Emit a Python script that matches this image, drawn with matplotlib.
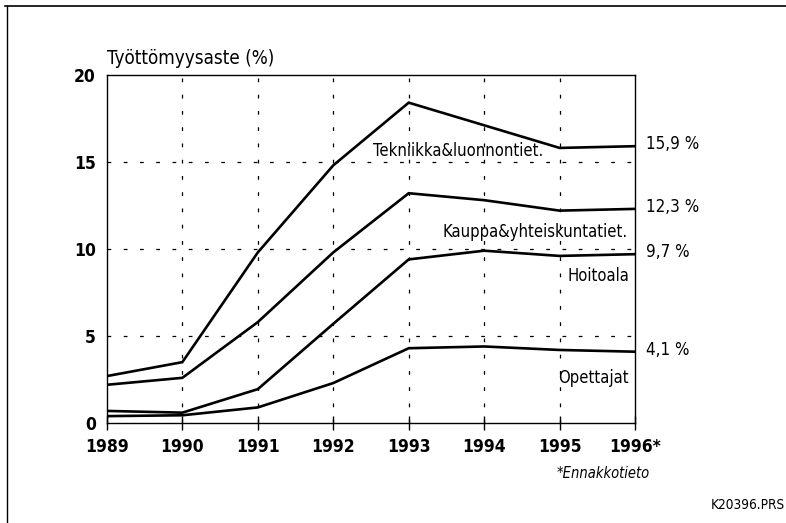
import numpy as np
import matplotlib
matplotlib.use("Agg")
import matplotlib.pyplot as plt
from matplotlib.lines import Line2D

years = [1989, 1990, 1991, 1992, 1993, 1994, 1995, 1996]
year_labels = ["1989", "1990", "1991", "1992", "1993", "1994", "1995", "1996*"]

tekniikka = [2.7, 3.5, 9.8, 14.8, 18.4, 17.1, 15.8, 15.9]
kauppa = [2.2, 2.6, 5.8, 9.8, 13.2, 12.8, 12.2, 12.3]
hoitoala = [0.7, 0.6, 1.95, 5.7, 9.4, 9.9, 9.6, 9.7]
opettajat = [0.4, 0.45, 0.9, 2.3, 4.3, 4.4, 4.2, 4.1]

series_names = ["Tekniikka&luonnontiet.", "Kauppa&yhteiskuntatiet.",
                "Hoitoala", "Opettajat"]
end_labels = ["15,9 %", "12,3 %", "9,7 %", "4,1 %"]

plt.rcParams["font.family"] = ["DejaVu Sans"]
plt.rcParams["font.stretch"] = "condensed"

fig = plt.figure(figsize=(7.86, 5.23), dpi=100)
ax = fig.add_axes([0.136, 0.191, 0.672, 0.666])

# dashed grid
for yr in years[1:-1]:
    ax.axvline(yr, color="black", lw=0.9, ls=(0, (3, 10)), zorder=1)
for yv in [5, 10, 15]:
    ax.axhline(yv, color="black", lw=0.9, ls=(0, (3, 10)), zorder=1)

all_series = [tekniikka, kauppa, hoitoala, opettajat]
for vals in all_series:
    ax.plot(years, vals, color="black", lw=1.9, zorder=3,
            solid_joinstyle="miter")

ax.set_xlim(1989, 1996)
ax.set_ylim(0, 20)
ax.set_xticks(years)
ax.set_xticklabels(year_labels, fontweight="bold")
ax.set_yticks([0, 5, 10, 15, 20])
ax.set_yticklabels(["0", "5", "10", "15", "20"], fontweight="bold")
ax.tick_params(axis="x", direction="inout", length=10, width=1,
               labelsize=12.5, pad=6)
ax.tick_params(axis="y", length=0, labelsize=12.5, pad=8)
for s in ax.spines.values():
    s.set_linewidth(1.0)

# series labels inside plot
ax.text(1992.53, 15.6, series_names[0], fontsize=11.9, va="center",
        ha="left", zorder=4)
ax.text(1995.9, 11.0, series_names[1], fontsize=11.9, va="center",
        ha="right", zorder=4)
ax.text(1995.92, 8.45, series_names[2], fontsize=11.9, va="center",
        ha="right", zorder=4)
ax.text(1995.92, 2.6, series_names[3], fontsize=11.9, va="center",
        ha="right", zorder=4)

# values at the right end
for vals, lab in zip(all_series, end_labels):
    ax.text(1996.15, vals[-1] + 0.1, lab, fontsize=12.2, va="center",
            ha="left", clip_on=False)

fig.text(0.136, 0.888, "Työttömyysaste (%)", fontsize=13.5,
         ha="left", va="center")
fig.text(0.768, 0.094, "*Ennakkotieto", fontsize=10.5, style="italic",
         ha="center", va="center")
fig.text(0.998, 0.034, "K20396.PRS", fontsize=9.8, ha="right",
         va="center")

# outer frame (top and left edges)
fig.add_artist(Line2D([0.006, 1.0], [0.989, 0.989], color="black",
                      lw=1.2, transform=fig.transFigure))
fig.add_artist(Line2D([0.009, 0.009], [0.002, 0.989], color="black",
                      lw=1.0, transform=fig.transFigure))

fig.savefig("out.png", dpi=100)
